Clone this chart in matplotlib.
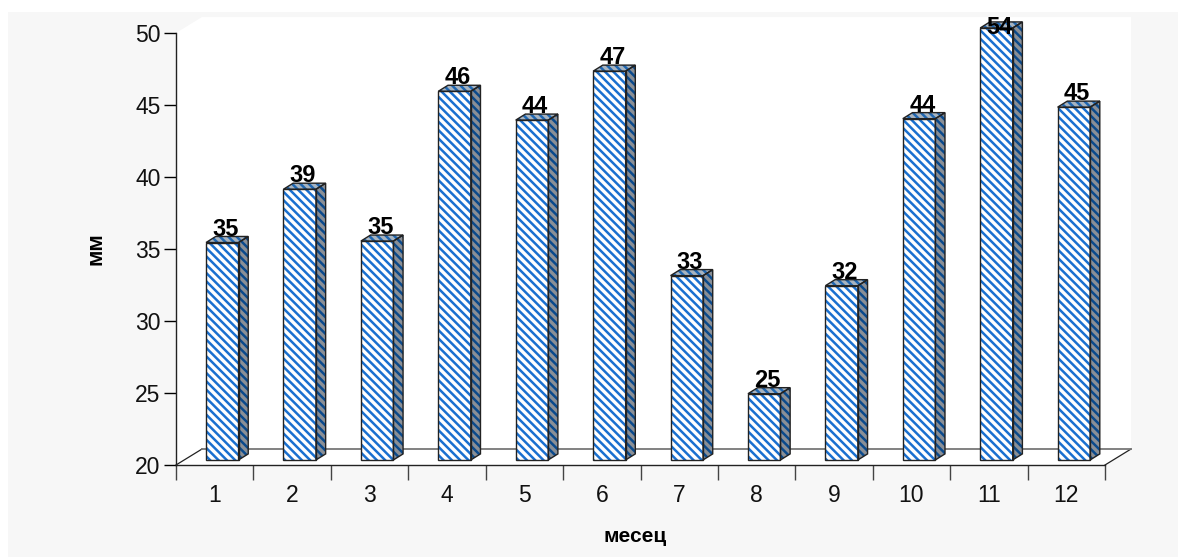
import matplotlib
matplotlib.use("Agg")
import matplotlib.pyplot as plt
from matplotlib.patches import Polygon, Rectangle

# =====================================================
# DATA
# =====================================================

months = ["1", "2", "3", "4", "5", "6", "7", "8", "9", "10", "11", "12"]
values = [35.1, 38.8, 35.2, 45.6, 43.6, 47.0, 32.8, 24.6, 32.1, 43.7, 54.0, 44.5]
labels = ["35", "39", "35", "46", "44", "47", "33", "25", "32", "44", "54", "45"]
y_ticks = [20, 25, 30, 35, 40, 45, 50]

# =====================================================
# CONFIG
# =====================================================

W, H = 1178, 557
LEFT, RIGHT, TOP, BOTTOM = 176, 1105, 33, 465

YMIN, YMAX = 20, 50

# 3D look, in data units
WALL_DX, WALL_DY = 0.336, 1.11
BAR_DX, BAR_DY = 0.125, 0.42
BAR_LEFT, BAR_W = 0.388, 0.42
BAR_BASE = 0.35

FONT = "Liberation Sans"
BLUE = "#1a70d0"
DARK = "#0b4a8c"
HATCH = "\\" * 4

plt.rcParams["font.family"] = FONT
plt.rcParams["hatch.linewidth"] = 1.8

fig = plt.figure(figsize=(W / 100, H / 100), dpi=100, facecolor="white")

# grey panel behind the plot
fig.add_artist(Rectangle((8 / W, 0), 1 - 8 / W, 1 - 12 / H,
                         transform=fig.transFigure, facecolor="#f7f7f7",
                         edgecolor="none", zorder=-5))

ax = fig.add_axes([LEFT / W, 1 - BOTTOM / H, (RIGHT - LEFT) / W, (BOTTOM - TOP) / H])
ax.patch.set_visible(False)
ax.set_xlim(0, len(months))
ax.set_ylim(YMIN, YMAX)

# =====================================================
# WALL AND FLOOR
# =====================================================

n = len(months)

ax.add_patch(Polygon(
    [(0, YMIN), (0, YMAX), (WALL_DX, YMAX + WALL_DY), (n + WALL_DX, YMAX + WALL_DY),
     (n + WALL_DX, YMIN + WALL_DY), (n, YMIN)],
    facecolor="white", edgecolor="none", clip_on=False, zorder=0
))
ax.plot([0, WALL_DX], [YMIN, YMIN + WALL_DY], color="#222222", lw=0.9, clip_on=False, zorder=1)
ax.plot([n, n + WALL_DX], [YMIN, YMIN + WALL_DY], color="#222222", lw=0.9, clip_on=False, zorder=1)
ax.plot([WALL_DX, n + WALL_DX], [YMIN + WALL_DY, YMIN + WALL_DY], color="#777777", lw=1.3,
        clip_on=False, zorder=1)

# =====================================================
# BARS
# =====================================================

for i, (val, lab) in enumerate(zip(values, labels)):

    x0 = i + BAR_LEFT
    x1 = x0 + BAR_W
    y0 = YMIN + BAR_BASE
    y1 = min(val, YMAX) + BAR_BASE

    # front
    front = [(x0, y0), (x1, y0), (x1, y1), (x0, y1)]
    ax.add_patch(Polygon(front, facecolor="white", edgecolor=BLUE, hatch=HATCH, lw=0,
                         clip_on=False, zorder=3))
    ax.add_patch(Polygon(front, fill=False, edgecolor="#222222", lw=1.0, clip_on=False, zorder=4))

    # side
    side = [(x1, y0), (x1 + BAR_DX, y0 + BAR_DY), (x1 + BAR_DX, y1 + BAR_DY), (x1, y1)]
    ax.add_patch(Polygon(side, facecolor="#8a8f96", edgecolor=DARK, hatch=HATCH, lw=0,
                         clip_on=False, zorder=3))
    ax.add_patch(Polygon(side, fill=False, edgecolor="#222222", lw=1.0, clip_on=False, zorder=4))

    # top
    top = [(x0, y1), (x1, y1), (x1 + BAR_DX, y1 + BAR_DY), (x0 + BAR_DX, y1 + BAR_DY)]
    ax.add_patch(Polygon(top, facecolor="#a8b4c0", edgecolor="#1f66b0", hatch=HATCH, lw=0,
                         clip_on=False, zorder=3))
    ax.add_patch(Polygon(top, fill=False, edgecolor="#222222", lw=1.0, clip_on=False, zorder=4))

    # value label
    xc = (x0 + x1) / 2 + BAR_DX / 3
    if val > YMAX:
        ax.text(xc, y1, lab, ha="center", va="center", fontsize=17, fontweight="bold",
                color="black", clip_on=False, zorder=6)
    else:
        ax.annotate(lab, (xc, y1 + BAR_DY), xytext=(0, -3), textcoords="offset points",
                    ha="center", va="bottom", fontsize=17, fontweight="bold",
                    color="black", annotation_clip=False, zorder=6)

# =====================================================
# AXES
# =====================================================

for s in ["top", "right"]:
    ax.spines[s].set_visible(False)
for s in ["left", "bottom"]:
    ax.spines[s].set_linewidth(1.0)
    ax.spines[s].set_color("#222222")

ax.set_yticks(y_ticks)
ax.set_xticks(range(n + 1))
ax.set_xticklabels([])
ax.set_xticks([i + 0.5 for i in range(n)], minor=True)
ax.set_xticklabels(months, minor=True)
ax.tick_params(axis="x", which="major", length=11, width=1.0, color="#444444")
ax.tick_params(axis="x", which="minor", length=0, pad=14, labelsize=16.5, labelcolor="#111111")
ax.tick_params(axis="y", length=9, width=1.0, pad=2, labelsize=16.5, labelcolor="#111111")

ax.set_xlabel("месец", fontsize=15, fontweight="bold", labelpad=14, x=0.494)
ax.set_ylabel("мм", fontsize=16, fontweight="bold", labelpad=21)

fig.savefig("out.png", dpi=100, facecolor=fig.get_facecolor())
plt.close(fig)
